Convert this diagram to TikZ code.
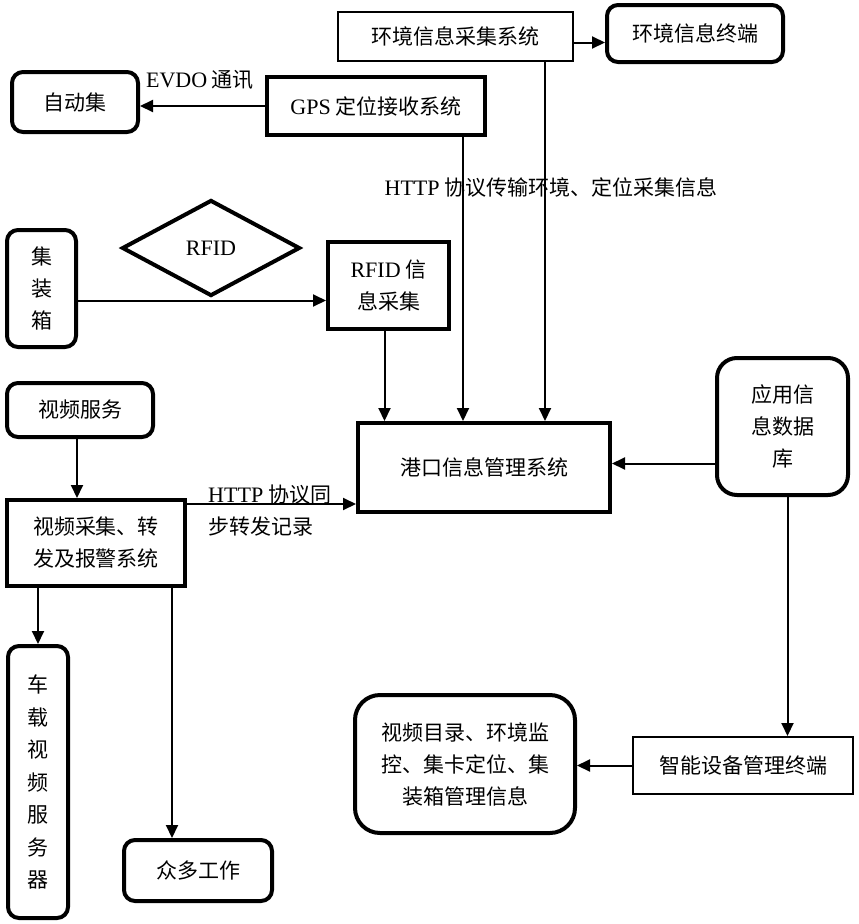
\documentclass[tikz,border=0pt]{standalone}
\usepackage{fontspec}
\setmainfont{Noto Sans CJK SC}
\newfontfamily\lat[Scale=1.05]{Liberation Serif}
\usetikzlibrary{arrows.meta,shapes.geometric}
\begin{document}
\begin{tikzpicture}[x=1pt,y=-1pt,
  every node/.style={inner sep=0pt, font=\fontsize{21}{32}\selectfont, align=center},
  thinbox/.style={draw, line width=2pt, rectangle},
  thickbox/.style={draw, line width=4pt, rectangle},
  rbox/.style={draw, line width=4pt, rectangle, rounded corners=11pt},
  lbl/.style={},
  arr/.style={line width=2pt, -{Triangle[length=13pt,width=12pt]}}]
\useasboundingbox (0,0) rectangle (859,924);

\node[thinbox, minimum width=235pt, minimum height=49pt] (hj) at (455.5,36.5) {环境信息采集系统};
\node[rbox, minimum width=176pt, minimum height=57pt] (hjzd) at (695,33.5) {环境信息终端};
\node[thickbox, minimum width=218pt, minimum height=58pt] (gps) at (376,106) {{\lat GPS} 定位接收系统};
\node[rbox, minimum width=126pt, minimum height=60pt] (zdj) at (75,102) {自动集};
\node[draw, line width=4pt, shape=diamond, minimum width=178pt, minimum height=96pt] (rfidd) at (211,248) {\lat RFID};
\node[rbox, minimum width=69pt, minimum height=117pt] (jzx) at (41.5,288.5) {集\\装\\箱};
\node[thickbox, minimum width=121pt, minimum height=87pt] (rfid) at (388.5,285.5) {{\lat RFID} 信\\息采集};
\node[thickbox, minimum width=252pt, minimum height=89pt] (port) at (484,467.5) {港口信息管理系统};
\node[rbox, rounded corners=20pt, minimum width=131pt, minimum height=137pt] (db) at (782.5,426.5) {应用信\\息数据\\库};
\node[rbox, minimum width=146pt, minimum height=54pt] (fw) at (80,410) {视频服务};
\node[thickbox, minimum width=178pt, minimum height=86pt] (cj) at (96,543) {视频采集、转\\发及报警系统};
\node[rbox, minimum width=60pt, minimum height=272pt, font=\fontsize{21}{32.5}\selectfont] (cz) at (38,782) {车\\载\\视\\频\\服\\务\\器};
\node[rbox, minimum width=148pt, minimum height=61pt] (zdgz) at (198,870.5) {众多工作};
\node[rbox, rounded corners=25pt, minimum width=220pt, minimum height=138pt] (ml) at (465,764) {视频目录、环境监\\控、集卡定位、集\\装箱管理信息};
\node[thinbox, minimum width=220pt, minimum height=57pt] (zn) at (743,765.5) {智能设备管理终端};

\node[lbl] (evdo) at (200,80) {{\lat EVDO} 通讯};
\node[lbl] (http1) at (551,187) {{\lat HTTP} 协议传输环境、定位采集信息};
\node[lbl, anchor=west, align=left] (http2) at (208,511) {{\lat HTTP} 协议同\\步转发记录};

\draw[arr] ([yshift=-6pt]hj.east) -- ([yshift=-6pt]hj.east -| hjzd.west);
\draw[arr] (gps.west) -- (gps.west -| zdj.east);
\draw[arr] ([xshift=-24pt]gps.south east) -- ([xshift=-24pt]gps.south east |- port.north);
\draw[arr] ([xshift=-29pt]hj.south east) -- ([xshift=-29pt]hj.south east |- port.north);
\draw[arr] ([yshift=-12pt]jzx.east) -- ([yshift=-12pt]jzx.east -| rfid.west);
\draw[arr] ([xshift=-4pt]rfid.south) -- ([xshift=-4pt]rfid.south |- port.north);
\draw[arr] ([yshift=4pt]port.east -| db.west) -- ([yshift=4pt]port.east);
\draw[arr] ([xshift=5pt]db.south) -- ([xshift=5pt]db.south |- zn.north);
\draw[arr] (zn.west) -- (zn.west -| ml.east);
\draw[arr] ([xshift=-3pt]fw.south) -- ([xshift=-3pt]fw.south |- cj.north);
\draw[arr] ([yshift=-6pt]cj.north east) -- ([yshift=-6pt]cj.north east -| port.west);
\draw[arr] (cj.south -| cz.north) -- (cz.north);
\draw[arr] ([xshift=-15pt]cj.south east) -- ([xshift=-15pt]cj.south east |- zdgz.north);
\end{tikzpicture}
\end{document}
